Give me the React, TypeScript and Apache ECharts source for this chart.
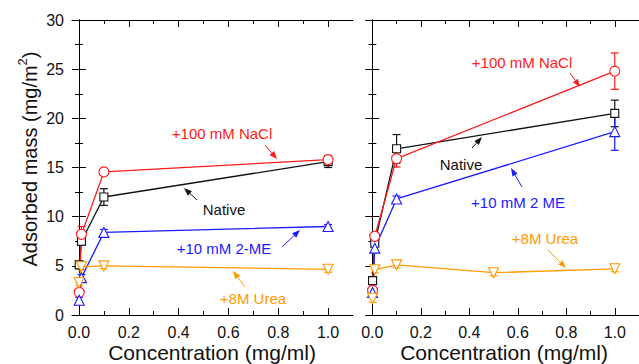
import React, { useEffect, useRef } from "react";
import * as echarts from "echarts";

// Concentrations (mg/ml)
const concLeft = [0.001, 0.01, 0.1, 1.0];
const concRight = [0.001, 0.01, 0.1, 1.0];
const concRightUrea = [0.001, 0.01, 0.1, 0.5, 1.0];

// Left panel: adsorbed mass (mg/m^2) and error
const leftNative = [5.1, 7.5, 12.0, 15.6];
const leftNativeErr = [0.3, 0.4, 0.85, 0.6];
const leftNaCl = [2.3, 8.2, 14.55, 15.8];
const leftNaClErr = [0.3, 0.8, 0.2, 0.4];
const leftME = [1.5, 3.8, 8.4, 9.0];
const leftMEErr = [0.3, 0.3, 0.3, 0.2];
const leftUrea = [3.3, 4.9, 5.0, 4.65];
const leftUreaErr = [0.3, 0.3, 0.3, 0.3];

// Right panel
const rightNative = [3.5, 7.3, 16.9, 20.5];
const rightNativeErr = [0.4, 0.3, 1.45, 1.35];
const rightNaCl = [2.5, 8.0, 15.9, 24.8];
const rightNaClErr = [0.3, 0.3, 0.85, 1.85];
const rightME = [2.3, 6.8, 11.8, 18.65];
const rightMEErr = [0.3, 0.4, 0.3, 1.9];
const rightUrea = [1.7, 4.6, 5.1, 4.3, 4.7];
const rightUreaErr = [0.4, 0.3, 0.3, 0.3, 0.3];

const xMajor = [0, 0.2, 0.4, 0.6, 0.8, 1.0];
const xMinor = [0.1, 0.3, 0.5, 0.7, 0.9];

const RED = "#ff1a1a";
const BLACK = "#111111";
const BLUE = "#1a1aff";
const ORANGE = "#ff9a00";
const FONT = "Liberation Sans, Arial, sans-serif";

type Spec = {
  name: string;
  color: string;
  symbol: string;
  size: number;
  rotate: number;
  xs: number[];
  ys: number[];
  errs: number[];
};

const leftSpecs: Spec[] = [
  { name: "Native", color: BLACK, symbol: "rect", size: 8, rotate: 0, xs: concLeft, ys: leftNative, errs: leftNativeErr },
  { name: "+100 mM NaCl", color: RED, symbol: "circle", size: 10, rotate: 0, xs: concLeft, ys: leftNaCl, errs: leftNaClErr },
  { name: "+10 mM 2-ME", color: BLUE, symbol: "triangle", size: 10, rotate: 0, xs: concLeft, ys: leftME, errs: leftMEErr },
  { name: "+8M Urea", color: ORANGE, symbol: "triangle", size: 10, rotate: 180, xs: concLeft, ys: leftUrea, errs: leftUreaErr },
];

const rightSpecs: Spec[] = [
  { name: "Native", color: BLACK, symbol: "rect", size: 8, rotate: 0, xs: concRight, ys: rightNative, errs: rightNativeErr },
  { name: "+100 mM NaCl", color: RED, symbol: "circle", size: 10, rotate: 0, xs: concRight, ys: rightNaCl, errs: rightNaClErr },
  { name: "+10 mM 2 ME", color: BLUE, symbol: "triangle", size: 10, rotate: 0, xs: concRight, ys: rightME, errs: rightMEErr },
  { name: "+8M Urea", color: ORANGE, symbol: "triangle", size: 10, rotate: 180, xs: concRightUrea, ys: rightUrea, errs: rightUreaErr },
];

// Annotation labels with arrows: [text, color, textX, textY, tailX, tailY, headX, headY]
const notes: [string, string, number, number, number, number, number, number][] = [
  ["+100 mM NaCl", RED, 222, 133, 265, 145, 277, 159],
  ["Native", BLACK, 224, 209, 197, 200, 184, 188],
  ["+10 mM 2-ME", BLUE, 224, 248, 282, 247, 300, 230],
  ["+8M Urea", ORANGE, 253, 298, 245, 287, 233, 271],
  ["+100 mM NaCl", RED, 522, 62, 570, 73, 580, 87],
  ["Native", BLACK, 461, 164, 472, 148, 482, 137],
  ["+10 mM 2 ME", BLUE, 518, 202, 522, 187, 511, 168],
  ["+8M Urea", ORANGE, 545, 238, 548, 250, 566, 268],
];

function arrowGraphics(x1: number, y1: number, x2: number, y2: number, color: string) {
  const a = Math.atan2(y2 - y1, x2 - x1);
  const len = 8;
  const hw = 3;
  const bx = x2 - len * Math.cos(a);
  const by = y2 - len * Math.sin(a);
  const px = -Math.sin(a);
  const py = Math.cos(a);
  return [
    {
      type: "line",
      shape: { x1, y1, x2: bx, y2: by },
      style: { stroke: color, lineWidth: 1 },
      silent: true,
    },
    {
      type: "polygon",
      shape: {
        points: [
          [x2, y2],
          [bx + hw * px, by + hw * py],
          [bx - hw * px, by - hw * py],
        ],
      },
      style: { fill: color },
      silent: true,
    },
  ];
}

function xAxes(gridIndex: number, min: number, max: number) {
  const base = {
    gridIndex,
    type: "value",
    min,
    max,
    splitLine: { show: false },
  };
  return [
    {
      ...base,
      position: "bottom",
      axisLine: { show: true, lineStyle: { color: "#000", width: 1 } },
      axisTick: { show: true, inside: true, length: 7, customValues: xMajor, lineStyle: { color: "#000" } },
      axisLabel: {
        show: true,
        customValues: xMajor,
        formatter: (v: number) => v.toFixed(1),
        fontSize: 16,
        fontFamily: FONT,
        color: "#111",
        margin: 9,
      },
    },
    {
      ...base,
      position: "bottom",
      axisLine: { show: false },
      axisTick: { show: true, inside: true, length: 4, customValues: xMinor, lineStyle: { color: "#000" } },
      axisLabel: { show: false },
    },
    {
      ...base,
      position: "top",
      axisLine: { show: true, lineStyle: { color: "#000", width: 1 } },
      axisTick: { show: true, inside: true, length: 7, customValues: xMajor, lineStyle: { color: "#000" } },
      axisLabel: { show: false },
    },
    {
      ...base,
      position: "top",
      axisLine: { show: false },
      axisTick: { show: true, inside: true, length: 4, customValues: xMinor, lineStyle: { color: "#000" } },
      axisLabel: { show: false },
    },
  ];
}

function yAxes(gridIndex: number, labels: boolean) {
  const base = {
    gridIndex,
    type: "value",
    min: 0,
    max: 30,
    interval: 5,
    splitLine: { show: false },
    axisLine: { show: true, lineStyle: { color: "#000", width: 1 } },
    axisTick: { show: true, inside: true, length: 7, lineStyle: { color: "#000" } },
    minorTick: { show: true, splitNumber: 2, length: 4, lineStyle: { color: "#000" } },
  };
  return [
    {
      ...base,
      position: "left",
      axisLabel: {
        show: labels,
        fontSize: 16,
        fontFamily: FONT,
        color: "#111",
        margin: 8,
      },
    },
    { ...base, position: "right", axisLabel: { show: false } },
  ];
}

function buildSeries(specs: Spec[], xAxisIndex: number, yAxisIndex: number) {
  const out: any[] = [];
  specs.forEach((s) => {
    const pts = s.xs.map((x, i) => [x, s.ys[i]]);
    const errPts = s.xs.map((x, i) => [x, s.ys[i], s.errs[i]]);
    out.push({
      type: "custom",
      xAxisIndex,
      yAxisIndex,
      data: errPts,
      z: 2,
      silent: true,
      renderItem: (params: any, api: any) => {
        const x = api.value(0);
        const y = api.value(1);
        const e = api.value(2);
        const top = api.coord([x, y + e]);
        const bot = api.coord([x, y - e]);
        const cap = 4;
        const st = { stroke: s.color, lineWidth: 1.2 };
        return {
          type: "group",
          children: [
            { type: "line", shape: { x1: top[0], y1: top[1], x2: bot[0], y2: bot[1] }, style: st },
            { type: "line", shape: { x1: top[0] - cap, y1: top[1], x2: top[0] + cap, y2: top[1] }, style: st },
            { type: "line", shape: { x1: bot[0] - cap, y1: bot[1], x2: bot[0] + cap, y2: bot[1] }, style: st },
          ],
        };
      },
    });
    out.push({
      type: "line",
      name: s.name,
      xAxisIndex,
      yAxisIndex,
      data: pts,
      z: 3,
      symbol: s.symbol,
      symbolSize: s.size,
      symbolRotate: s.rotate,
      showSymbol: true,
      lineStyle: { color: s.color, width: 1.3 },
      itemStyle: { color: "#ffffff", borderColor: s.color, borderWidth: 1.1 },
    });
  });
  return out;
}

export default function App() {
  const ref = useRef<HTMLDivElement>(null);

  useEffect(() => {
    if (!ref.current) return;
    const chart = echarts.init(ref.current, null, { renderer: "svg" });

    const graphics: any[] = [];
    notes.forEach(([t, c, tx, ty, x1, y1, x2, y2]) => {
      graphics.push({
        type: "text",
        x: tx,
        y: ty,
        silent: true,
        style: {
          text: t,
          fill: c,
          font: `15px ${FONT}`,
          align: "center",
          verticalAlign: "middle",
        },
      });
      graphics.push(...arrowGraphics(x1, y1, x2, y2, c));
    });

    // Axis titles
    graphics.push({
      type: "text",
      x: 28,
      y: 159,
      rotation: Math.PI / 2,
      silent: true,
      style: {
        text: "{a|Adsorbed mass (mg/m}{s|2}{a|)}",
        align: "center",
        verticalAlign: "middle",
        rich: {
          a: { fontSize: 20, fontFamily: FONT, fill: "#111", lineHeight: 24, verticalAlign: "bottom" },
          s: { fontSize: 13, fontFamily: FONT, fill: "#111", lineHeight: 24, verticalAlign: "top" },
        },
      },
    });
    graphics.push({
      type: "text",
      x: 212,
      y: 352,
      silent: true,
      style: {
        text: "Concentration (mg/ml)",
        font: `21px ${FONT}`,
        fill: "#111",
        align: "center",
        verticalAlign: "middle",
      },
    });
    graphics.push({
      type: "text",
      x: 504,
      y: 352,
      silent: true,
      style: {
        text: "Concentration (mg/ml)",
        font: `21px ${FONT}`,
        fill: "#111",
        align: "center",
        verticalAlign: "middle",
      },
    });

    chart.setOption({
      animation: false,
      backgroundColor: "#ffffff",
      grid: [
        { left: 72, top: 20, width: 281, height: 295, show: false },
        { left: 367, top: 20, width: 281, height: 295, show: false },
      ],
      xAxis: [...xAxes(0, -0.028, 1.1), ...xAxes(1, -0.022, 1.1)],
      yAxis: [...yAxes(0, true), ...yAxes(1, false)],
      series: [...buildSeries(leftSpecs, 0, 0), ...buildSeries(rightSpecs, 4, 2)],
      graphic: graphics,
    });

    return () => chart.dispose();
  }, []);

  return (
    <div
      ref={ref}
      style={{ position: "fixed", left: 0, top: 0, width: 639, height: 364, background: "#fff" }}
    />
  );
}
